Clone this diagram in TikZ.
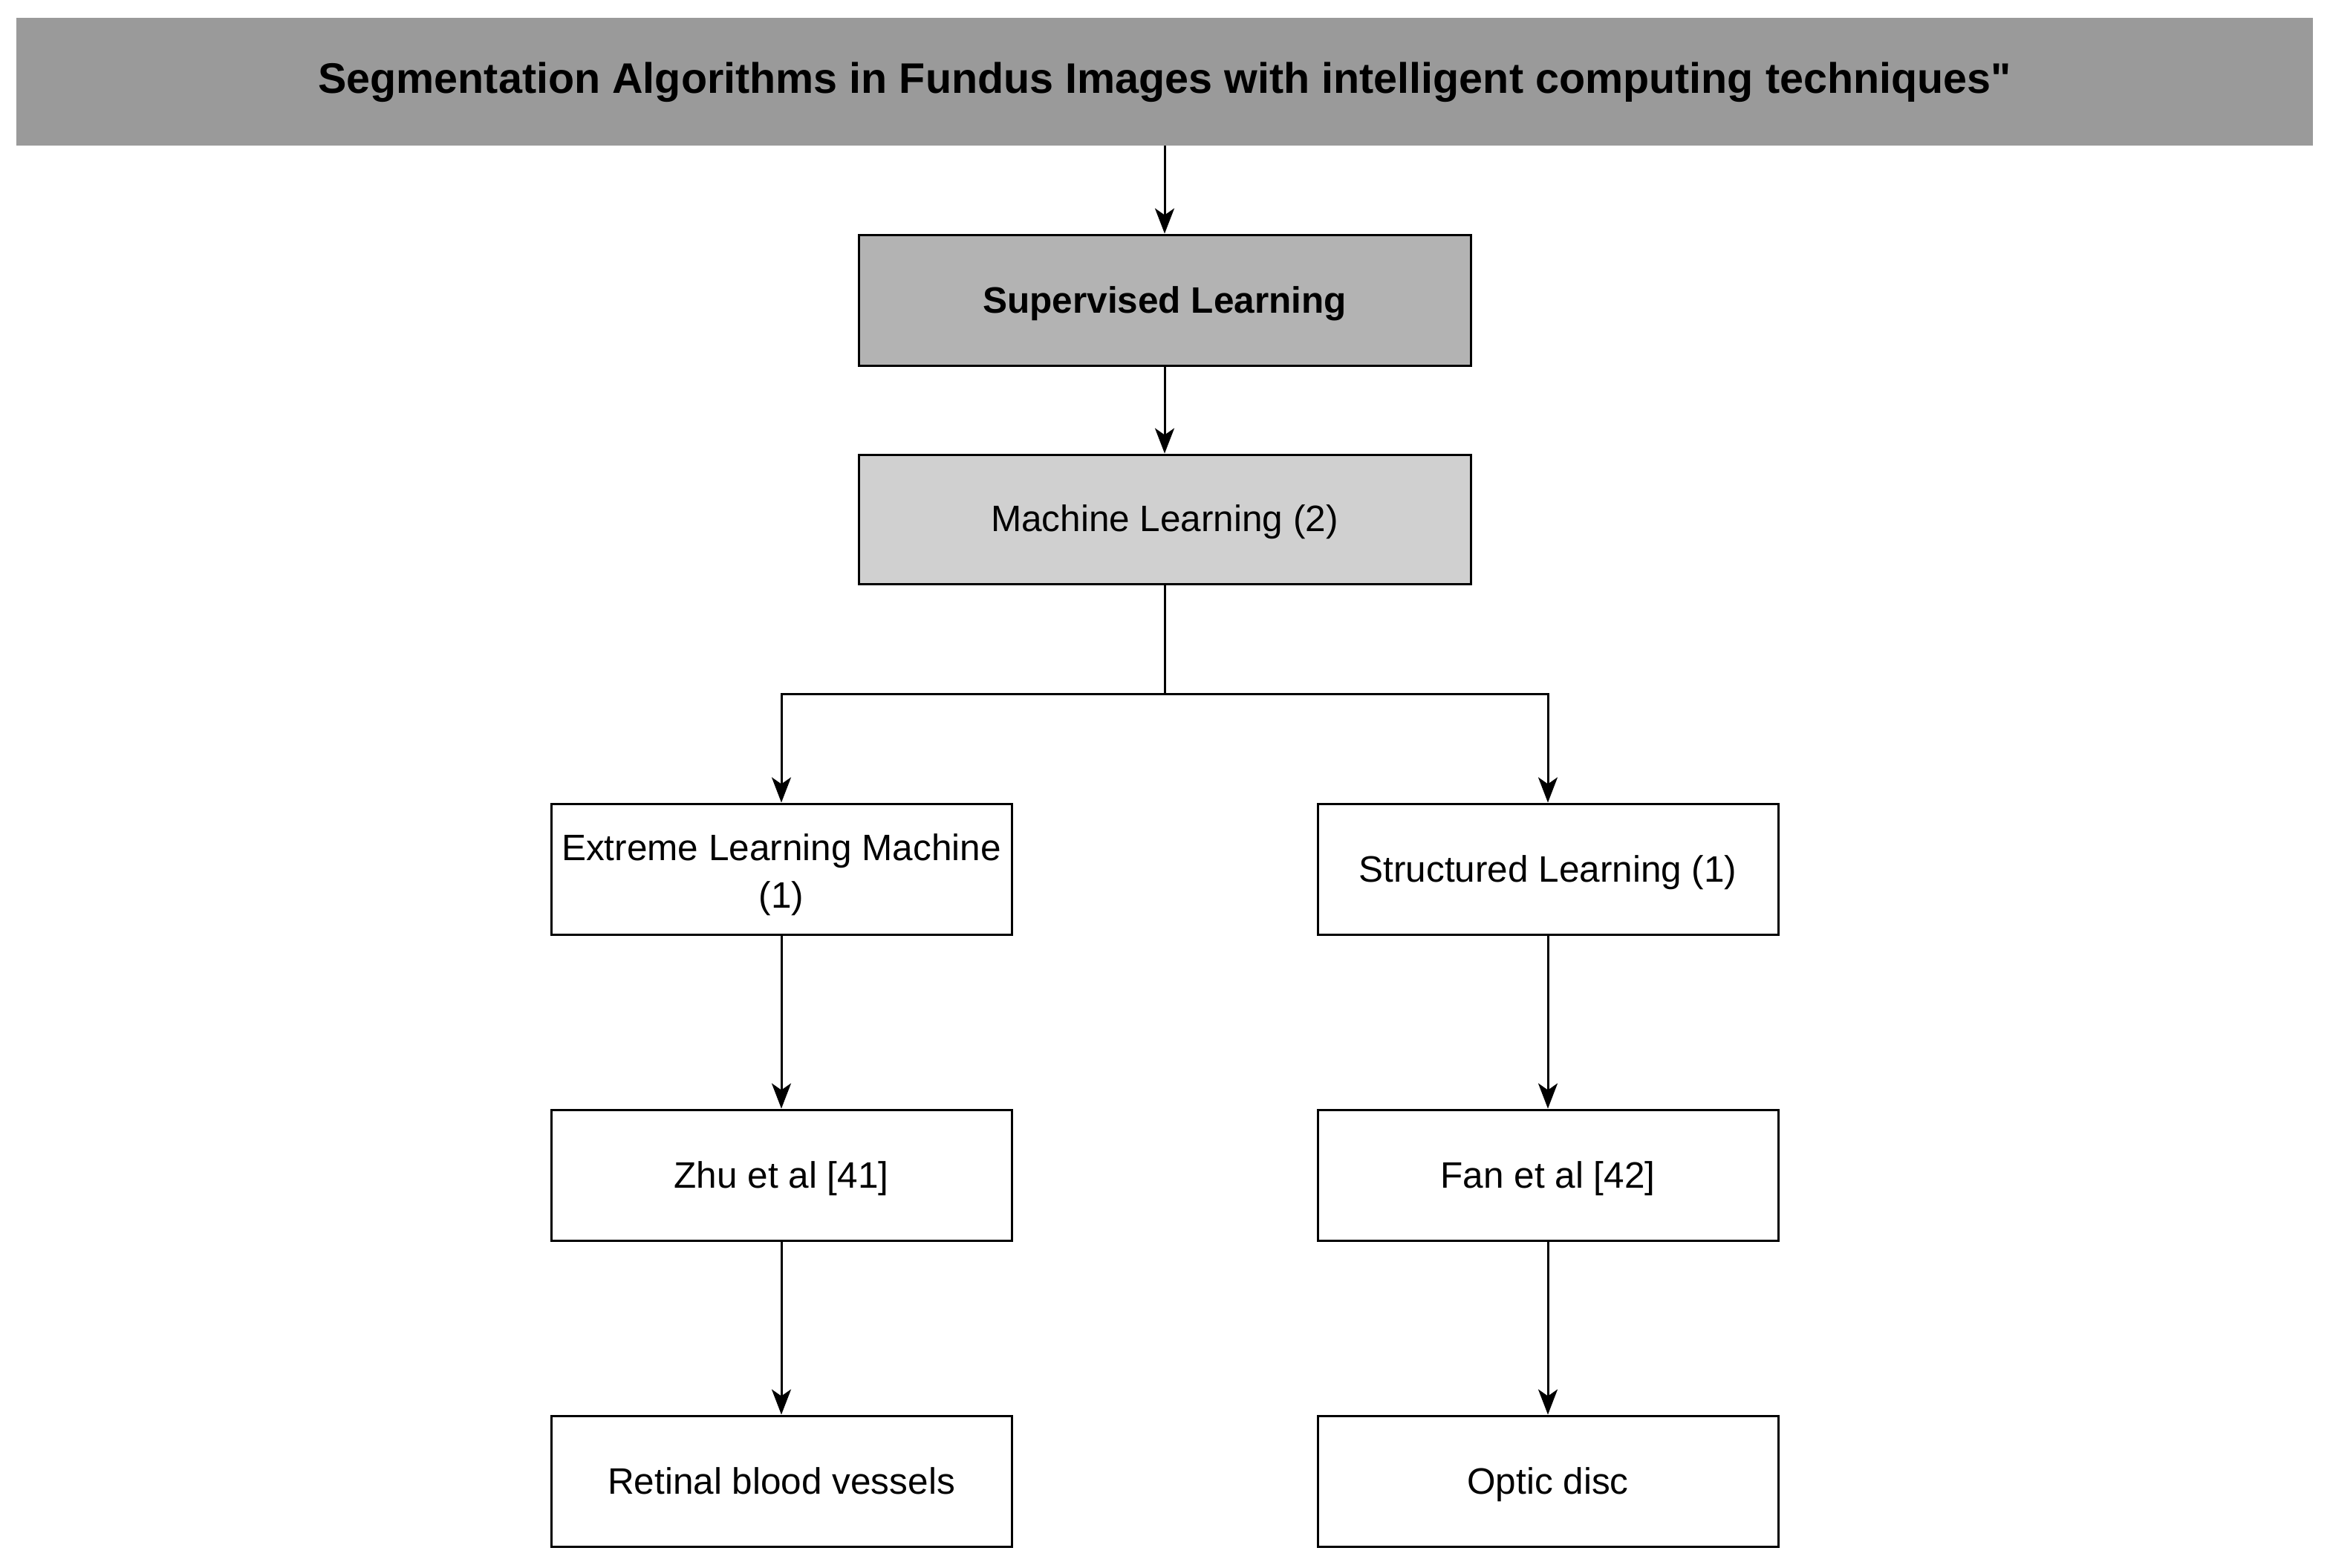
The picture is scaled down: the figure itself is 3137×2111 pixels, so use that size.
\documentclass[tikz,border=0pt]{standalone}
\usepackage{fontspec}
\setmainfont{Liberation Sans}[Ligatures=TeXOff]
\usetikzlibrary{arrows.meta}
\definecolor{titlegray}{HTML}{9A9A9A}
\definecolor{supgray}{HTML}{B3B3B3}
\definecolor{mlgray}{HTML}{D0D0D0}
\begin{document}
\begin{tikzpicture}[x=1pt,y=-1pt,
  box/.style={draw=black, line width=3pt, rectangle, inner sep=0pt, align=center,
    font=\fontsize{49.5}{64}\selectfont, text height=46pt, text depth=12pt},
  wbox/.style={box, minimum width=620pt, minimum height=176pt, fill=white},
  conn/.style={line width=3pt, -{Stealth[length=34pt,width=26pt,inset=9pt]}},
  plain/.style={line width=3pt}
]
\useasboundingbox (0,0) rectangle (3137,2111);
\fill[white] (0,0) rectangle (3137,2111);

\node[fill=titlegray, minimum width=3092pt, minimum height=172pt, inner sep=0pt,
  text height=43pt, text depth=12pt,
  font=\fontsize{57.5}{66}\selectfont\bfseries] (title) at (1568,110)
  {Segmentation Algorithms in Fundus Images with intelligent computing techniques\char34};

\node[box, fill=supgray, minimum width=824pt, minimum height=176pt, font=\fontsize{49.5}{64}\selectfont\bfseries]
  (sup) at (1568,404) {Supervised Learning};
\node[box, fill=mlgray, minimum width=824pt, minimum height=174pt, text height=44pt] (ml) at (1568,699) {Machine Learning (2)};

\node[wbox, text height=116pt, text depth=12pt] (elm) at (1052,1170) {Extreme Learning Machine\\(1)};
\node[wbox] (sl) at (2084,1170) {Structured Learning (1)};
\node[wbox] (zhu) at (1052,1582) {Zhu et al [41]};
\node[wbox] (fan) at (2084,1582) {Fan et al [42]};
\node[wbox] (ret) at (1052,1994) {Retinal blood vessels};
\node[wbox] (opt) at (2084,1994) {Optic disc};

\coordinate (split) at (1568,934);

\draw[conn] (title.south) -- (sup.north);
\draw[conn] (sup.south) -- (ml.north);
\draw[plain] (ml.south) -- (split);
\draw[conn] (split) -| (elm.north);
\draw[conn] (split) -| (sl.north);
\draw[conn] (elm.south) -- (zhu.north);
\draw[conn] (sl.south) -- (fan.north);
\draw[conn] (zhu.south) -- (ret.north);
\draw[conn] (fan.south) -- (opt.north);
\end{tikzpicture}
\end{document}
